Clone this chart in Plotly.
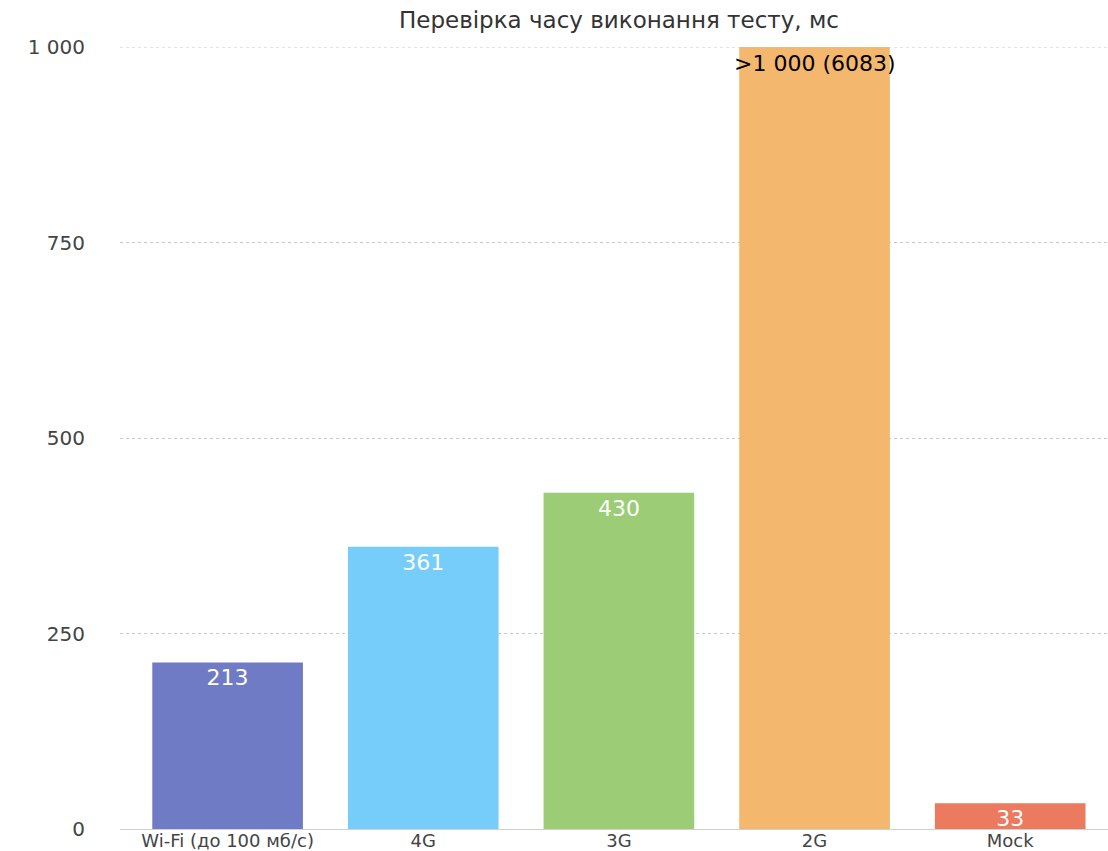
import plotly.graph_objects as go

# Test run time per network type, ms
categories = ["Wi-Fi (до 100 мб/с)", "4G", "3G", "2G", "Mock"]
values = [213, 361, 430, 6083, 33]
colors = ["#6f7bc5", "#77cdfa", "#9ccd76", "#f4b76e", "#ec7a5f"]

y_max = 1000
y_ticks = [0, 250, 500, 750, 1000]
y_tick_labels = ["0", "250", "500", "750", "1 000"]

FONT = "DejaVu Sans, Verdana, sans-serif"
GRID = "#c8c8c8"

# values above the axis ceiling get an explicit ">1 000 (n)" label instead of the inside one
bar_text = [str(v) if v <= y_max else "" for v in values]

fig = go.Figure(
    go.Bar(
        x=categories,
        y=values,
        marker=dict(color=colors, line=dict(width=0)),
        text=bar_text,
        textposition="inside",
        insidetextanchor="end",
        constraintext="none",
        textfont=dict(family=FONT, size=22, color="white"),
        hoverinfo="x+y",
    )
)

for cat, v in zip(categories, values):
    if v > y_max:
        fig.add_annotation(
            x=cat, y=y_max, yref="y", xref="x",
            text=f">1 000 ({v})",
            showarrow=False, yanchor="top", yshift=-2,
            font=dict(family=FONT, size=22, color="black"),
        )

# top gridline sits on the axis ceiling, so draw it explicitly over the bars
fig.add_shape(
    type="line", xref="paper", x0=0, x1=1, yref="y", y0=y_max, y1=y_max,
    line=dict(color=GRID, width=1, dash="dot"), layer="above",
)

fig.update_layout(
    width=1108,
    height=851,
    margin=dict(l=120, r=0, t=47, b=22),
    paper_bgcolor="white",
    plot_bgcolor="white",
    bargap=0.23,
    showlegend=False,
    title=dict(
        text="Перевірка часу виконання тесту, мс",
        x=0.505, xanchor="center", xref="paper",
        y=0.977, yanchor="middle", yref="container",
        font=dict(family=FONT, size=23, color="#333333"),
    ),
    xaxis=dict(
        range=[-0.55, 4.5],
        automargin=False,
        showgrid=False,
        showline=True, linecolor="#d0d0d0", linewidth=1,
        ticks="",
        ticklabelstandoff=-5,
        tickfont=dict(family=FONT, size=18, color="#444444"),
        fixedrange=True,
    ),
    yaxis=dict(
        range=[0, y_max],
        automargin=False,
        tickvals=y_ticks,
        ticktext=y_tick_labels,
        showgrid=True, gridcolor=GRID, griddash="dot", gridwidth=1,
        zeroline=False,
        ticks="",
        ticklabelstandoff=34,
        tickfont=dict(family=FONT, size=20, color="#444444"),
        fixedrange=True,
    ),
)

fig.write_html("out.html")
